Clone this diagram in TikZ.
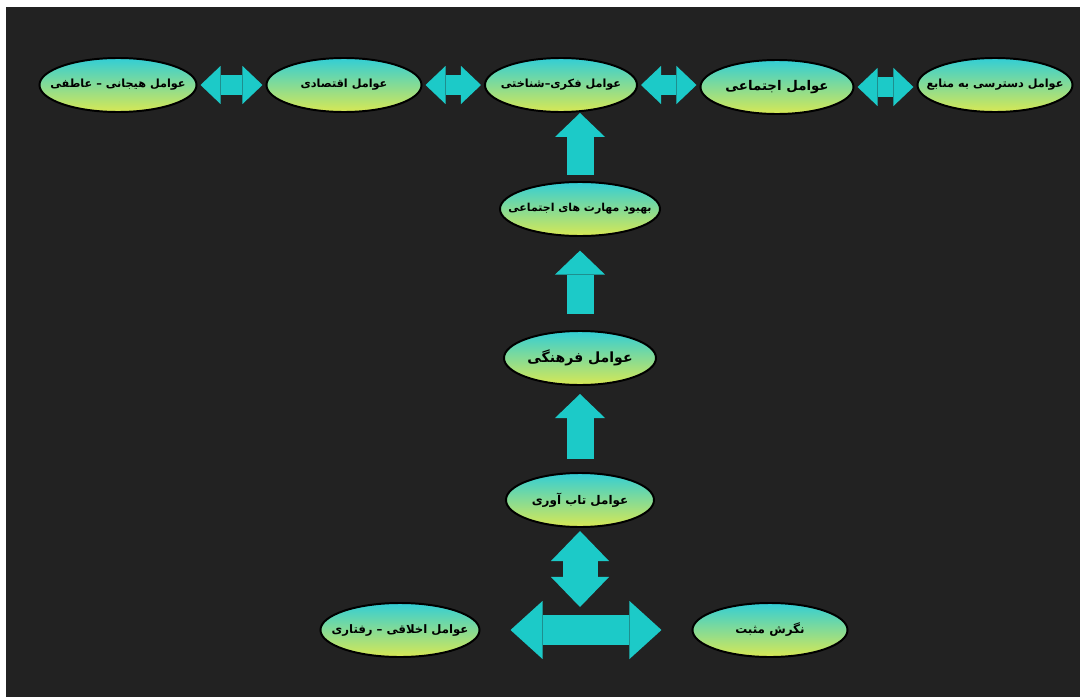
\documentclass[tikz,border=0pt]{standalone}
\usepackage{fontspec}
\usetikzlibrary{arrows.meta,shapes.geometric}
\TeXXeTstate=1
\newfontfamily\arabicfont[Script=Arabic]{DejaVu Sans}
\definecolor{bgdark}{RGB}{34,34,34}
\definecolor{acyan}{RGB}{28,202,200}
\definecolor{topcyan}{RGB}{50,206,214}
\definecolor{botgreen}{RGB}{216,232,84}
\newcommand{\rtltext}[2][8]{\makebox[0pt]{\fontsize{#1}{#1}\selectfont\beginR #2\endR}}

\begin{document}
\begin{tikzpicture}[x=0.025cm,y=-0.025cm,
    factor/.style={ellipse, draw=black, line width=1.4pt, top color=topcyan,
        bottom color=botgreen, minimum width=3.875cm, minimum height=1.35cm,
        inner sep=0pt, font=\arabicfont\bfseries},
    link/.style={acyan, line width=0.5cm, shorten <=0.075cm, shorten >=0.075cm,
        {Triangle[length=0.5cm,width=0.95cm,line width=0pt]}-{Triangle[length=0.5cm,width=0.95cm,line width=0pt]}},
    rise/.style={acyan, line width=0.675cm,
        -{Triangle[length=0.6cm,width=1.25cm,line width=0pt]}},
    swing/.style={acyan, line width=0.875cm,
        {Triangle[length=0.75cm,width=1.45cm,line width=0pt]}-{Triangle[length=0.75cm,width=1.45cm,line width=0pt]}},
    spread/.style={acyan, line width=0.75cm, shorten <=0.75cm, shorten >=0.75cm,
        {Triangle[length=0.8cm,width=1.45cm,line width=0pt]}-{Triangle[length=0.8cm,width=1.45cm,line width=0pt]}}]
    \useasboundingbox (0,0) rectangle (1080,697);
    % page and dark panel
    \fill[white] (0,0) rectangle (1080,697);
    \fill[bgdark] (6,7) rectangle (1080,697);

    % top row
    \node[factor, minimum width=3.925cm] (emotional) at (118,85) {\rtltext{عوامل هیجانی – عاطفی}};
    \node[factor] (economic) at (344,85) {\rtltext{عوامل اقتصادی}};
    \node[factor, minimum width=3.8cm] (cognitive) at (561,85) {\rtltext{عوامل فکری–شناختی}};
    \node[factor, minimum width=3.825cm] (social) at (777,87) {\rtltext[9.5]{عوامل اجتماعی}};
    \node[factor] (resources) at (995,85) {\rtltext{عوامل دسترسی به منابع}};

    % middle column
    \node[factor, minimum width=4cm] (skills) at (580,209) {\rtltext[7.8]{بهبود مهارت های اجتماعی}};
    \node[factor, minimum width=3.8cm] (cultural) at (580,358) {\rtltext[10]{عوامل فرهنگی}};
    \node[factor, minimum width=3.7cm] (resilience) at (580,500) {\rtltext[8.5]{عوامل تاب آوری}};

    % bottom row
    \node[factor, minimum width=3.975cm] (ethical) at (400,630) {\rtltext[8.3]{عوامل اخلاقی – رفتاری}};
    \node[factor] (positive) at (770,630) {\rtltext[8.5]{نگرش مثبت}};
    \coordinate (hub) at (580,607);

    \draw[link] (emotional) -- (economic);
    \draw[link] (economic) -- (cognitive);
    \draw[link] (cognitive) -- (social.west |- cognitive);
    \draw[link] (social.east) -- (resources.west |- social.east);

    \draw[rise, shorten <=0.16cm] (skills.north) -- (skills.north |- cognitive.south);
    \draw[rise, shorten <=0.4cm, shorten >=0.34cm] (cultural.north) -- (skills.south);
    \draw[rise, shorten <=0.33cm, shorten >=0.2cm] (resilience.north) -- (cultural.south);

    \draw[swing, shorten <=0.075cm] (resilience.south) -- (hub);
    \draw[spread] (ethical) -- (positive);
\end{tikzpicture}
\end{document}
